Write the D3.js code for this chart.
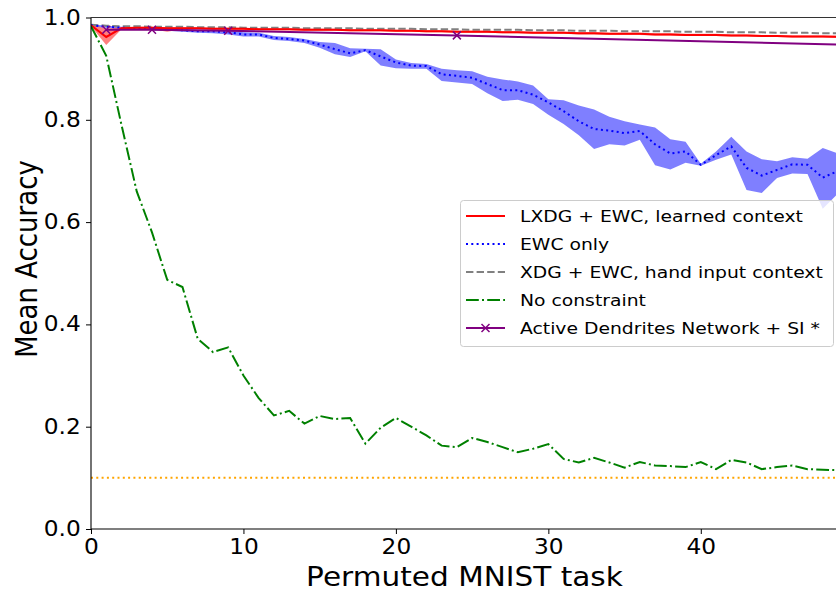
<!DOCTYPE html>
<html>
<head>
<meta charset="utf-8">
<script src="https://cdn.jsdelivr.net/npm/d3@7"></script>
<style>
  html, body { margin: 0; padding: 0; background: #fff; }
  svg { display: block; font-family: "DejaVu Sans", sans-serif; }
</style>
</head>
<body>
<svg id="chart" width="836" height="593"></svg>
<script>
// ---------------- data ----------------
const tasks = d3.range(50);
const yTicks = [0.0, 0.2, 0.4, 0.6, 0.8, 1.0];
const xTicks = [0, 10, 20, 30, 40];

const lxdgMean = [0.985, 0.962, 0.979, 0.980, 0.980, 0.979, 0.979, 0.979, 0.978, 0.978,
                  0.978, 0.977, 0.977, 0.977, 0.976, 0.976, 0.976, 0.975, 0.975, 0.975,
                  0.974, 0.974, 0.973, 0.973, 0.972, 0.972, 0.972, 0.971, 0.971, 0.970,
                  0.970, 0.970, 0.969, 0.969, 0.968, 0.968, 0.968, 0.967, 0.967, 0.966,
                  0.966, 0.966, 0.965, 0.965, 0.964, 0.964, 0.963, 0.963, 0.963, 0.962];
const lxdgUpper = [0.987, 0.978, 0.981, 0.982, 0.982, 0.981, 0.981, 0.981, 0.980, 0.980,
                   0.980, 0.979, 0.979, 0.979, 0.978, 0.978, 0.978, 0.977, 0.977, 0.977,
                   0.976, 0.976, 0.975, 0.975, 0.974, 0.974, 0.974, 0.973, 0.973, 0.972,
                   0.972, 0.972, 0.971, 0.971, 0.970, 0.970, 0.970, 0.969, 0.969, 0.968,
                   0.968, 0.968, 0.967, 0.967, 0.966, 0.966, 0.965, 0.965, 0.965, 0.964];
const lxdgLower = [0.983, 0.946, 0.977, 0.978, 0.977, 0.972, 0.977, 0.977, 0.976, 0.976,
                   0.976, 0.975, 0.975, 0.975, 0.974, 0.974, 0.974, 0.973, 0.973, 0.973,
                   0.972, 0.972, 0.971, 0.971, 0.970, 0.970, 0.970, 0.969, 0.969, 0.968,
                   0.968, 0.968, 0.967, 0.967, 0.966, 0.966, 0.966, 0.965, 0.965, 0.964,
                   0.964, 0.964, 0.963, 0.963, 0.962, 0.962, 0.961, 0.961, 0.961, 0.960];

const ewcMean = [0.985, 0.982, 0.980, 0.979, 0.977, 0.977, 0.975, 0.973, 0.973, 0.971,
                 0.967, 0.967, 0.960, 0.958, 0.955, 0.947, 0.938, 0.930, 0.936, 0.924,
                 0.912, 0.906, 0.905, 0.889, 0.886, 0.882, 0.870, 0.858, 0.858, 0.849,
                 0.834, 0.817, 0.797, 0.782, 0.779, 0.774, 0.778, 0.752, 0.734, 0.738,
                 0.712, 0.731, 0.748, 0.706, 0.691, 0.702, 0.713, 0.712, 0.687, 0.700];
const ewcUpper = [0.987, 0.984, 0.982, 0.981, 0.980, 0.979, 0.978, 0.976, 0.976, 0.975,
                  0.971, 0.970, 0.964, 0.962, 0.958, 0.952, 0.950, 0.940, 0.939, 0.938,
                  0.918, 0.911, 0.909, 0.900, 0.897, 0.895, 0.884, 0.879, 0.875, 0.867,
                  0.840, 0.838, 0.828, 0.820, 0.806, 0.797, 0.791, 0.785, 0.762, 0.757,
                  0.714, 0.738, 0.767, 0.738, 0.723, 0.719, 0.727, 0.724, 0.745, 0.734];
const ewcLower = [0.983, 0.980, 0.978, 0.977, 0.975, 0.974, 0.972, 0.970, 0.969, 0.967,
                  0.963, 0.963, 0.956, 0.954, 0.950, 0.941, 0.928, 0.923, 0.934, 0.906,
                  0.901, 0.900, 0.900, 0.876, 0.873, 0.870, 0.852, 0.837, 0.839, 0.831,
                  0.810, 0.792, 0.770, 0.743, 0.752, 0.750, 0.761, 0.711, 0.703, 0.716,
                  0.710, 0.722, 0.732, 0.663, 0.657, 0.686, 0.695, 0.694, 0.626, 0.656];

const xdgMean = [0.986, 0.984, 0.983, 0.983, 0.982, 0.982, 0.982, 0.981, 0.981, 0.981,
                 0.980, 0.980, 0.980, 0.980, 0.979, 0.979, 0.979, 0.979, 0.978, 0.978,
                 0.978, 0.978, 0.977, 0.977, 0.977, 0.976, 0.976, 0.976, 0.976, 0.975,
                 0.975, 0.975, 0.974, 0.974, 0.974, 0.973, 0.973, 0.973, 0.973, 0.972,
                 0.972, 0.972, 0.971, 0.971, 0.971, 0.970, 0.970, 0.970, 0.969, 0.969];

const noConstraint = [0.983, 0.925, 0.790, 0.660, 0.580, 0.487, 0.473, 0.372, 0.346, 0.355,
                      0.300, 0.256, 0.222, 0.231, 0.206, 0.221, 0.215, 0.217, 0.167, 0.198,
                      0.217, 0.200, 0.183, 0.163, 0.160, 0.178, 0.170, 0.160, 0.150, 0.157,
                      0.166, 0.137, 0.130, 0.139, 0.130, 0.120, 0.131, 0.124, 0.123, 0.121,
                      0.131, 0.117, 0.135, 0.130, 0.117, 0.121, 0.124, 0.117, 0.116, 0.115];

// Active Dendrites + SI: reported at 2, 5, 10, 25 and 100 tasks (last point lies beyond the visible range)
const adnTasks = [1, 4, 9, 24, 99];
const adnAcc = [0.976, 0.976, 0.974, 0.965, 0.911];

const chanceLevel = 0.1;

const legendLabels = ["LXDG + EWC, learned context", "EWC only",
                      "XDG + EWC, hand input context", "No constraint",
                      "Active Dendrites Network + SI *"];

// ---------------- layout ----------------
const svg = d3.select("#chart");
const pLeft = 91, pRight = 838, pTop = 17.5, pBottom = 529;
const SX = 1.137; // horizontal text stretch seen in the reference
const x = d3.scaleLinear().domain([0, 49]).range([pLeft, pRight]);
const y = d3.scaleLinear().domain([0, 1]).range([pBottom, pTop]);

const defs = svg.append("defs");
defs.append("clipPath").attr("id", "plotclip")
  .append("rect").attr("x", pLeft).attr("y", pTop).attr("width", pRight - pLeft).attr("height", pBottom - pTop);

const plot = svg.append("g").attr("clip-path", "url(#plotclip)");

const lineGen = (vals, xs) => d3.line().x((d, i) => x(xs ? xs[i] : i)).y(d => y(d))(vals);
const areaGen = (up, lo) => d3.area().x((d, i) => x(i)).y0((d, i) => y(lo[i])).y1((d, i) => y(up[i]))(up);

// bands
plot.append("path").attr("d", areaGen(ewcUpper, ewcLower)).attr("fill", "blue").attr("fill-opacity", 0.5);
plot.append("path").attr("d", areaGen(lxdgUpper, lxdgLower)).attr("fill", "red").attr("fill-opacity", 0.5);

// chance
plot.append("line").attr("x1", pLeft).attr("x2", pRight).attr("y1", y(chanceLevel)).attr("y2", y(chanceLevel))
  .attr("stroke", "orange").attr("stroke-width", 2).attr("stroke-dasharray", "2,3.3");

// lines
const lw = 2;
plot.append("path").attr("d", lineGen(xdgMean)).attr("fill", "none").attr("stroke", "gray")
  .attr("stroke-width", lw).attr("stroke-dasharray", "7.4,3.2");
plot.append("path").attr("d", lineGen(ewcMean)).attr("fill", "none").attr("stroke", "blue")
  .attr("stroke-width", lw).attr("stroke-dasharray", "2,3.3");
plot.append("path").attr("d", lineGen(lxdgMean)).attr("fill", "none").attr("stroke", "red")
  .attr("stroke-width", lw);
plot.append("path").attr("d", lineGen(noConstraint)).attr("fill", "none").attr("stroke", "green")
  .attr("stroke-width", lw).attr("stroke-dasharray", "12.8,3.2,2,3.2");
plot.append("path").attr("d", lineGen(adnAcc, adnTasks)).attr("fill", "none").attr("stroke", "purple")
  .attr("stroke-width", lw);

const xMarker = (g, cx, cy, s) => {
  g.append("path").attr("d", `M${cx - s},${cy - s}L${cx + s},${cy + s}M${cx - s},${cy + s}L${cx + s},${cy - s}`)
    .attr("stroke", "purple").attr("stroke-width", 1.5).attr("fill", "none");
};
adnTasks.forEach((t, i) => xMarker(plot, x(t), y(adnAcc[i]), 4));

// axes
const yAxis = svg.append("g").attr("transform", `translate(${pLeft},0)`)
  .call(d3.axisLeft(y).tickValues(yTicks).tickFormat(d3.format(".1f")).tickSize(5).tickPadding(4));
const xAxis = svg.append("g").attr("transform", `translate(0,${pBottom})`)
  .call(d3.axisBottom(x).tickValues(xTicks).tickFormat(d3.format("d")).tickSize(5).tickPadding(5));
[yAxis, xAxis].forEach(a => {
  a.select(".domain").remove();
  a.selectAll("text").attr("font-size", 20.5).attr("fill", "#000").attr("font-family", "DejaVu Sans")
    .attr("transform", `scale(${SX},1)`);
  a.selectAll("line").attr("stroke", "#000").attr("stroke-width", 1);
});

// spines
svg.append("line").attr("x1", pLeft).attr("x2", pLeft).attr("y1", pTop).attr("y2", pBottom + 0.5)
  .attr("stroke", "#000").attr("stroke-width", 1.1);
svg.append("line").attr("x1", pLeft).attr("x2", 836).attr("y1", pBottom).attr("y2", pBottom)
  .attr("stroke", "#000").attr("stroke-width", 1.1);
svg.append("line").attr("x1", pLeft).attr("x2", 836).attr("y1", pTop).attr("y2", pTop)
  .attr("stroke", "#333").attr("stroke-width", 1.1);

// axis labels
svg.append("text").attr("transform", `translate(${(pLeft + pRight) / 2},586) scale(${SX},1)`)
  .attr("text-anchor", "middle").attr("font-size", 26).attr("fill", "#000").text("Permuted MNIST task");
svg.append("text").attr("transform", `translate(37,259) scale(${SX},1) rotate(-90)`)
  .attr("text-anchor", "middle").attr("font-size", 26).attr("fill", "#000").text("Mean Accuracy");

// legend
const lg = svg.append("g");
lg.append("rect").attr("x", 460.5).attr("y", 200.5).attr("width", 373).attr("height", 146)
  .attr("rx", 3).attr("fill", "#fff").attr("fill-opacity", 0.8).attr("stroke", "#ccc").attr("stroke-width", 1);
const legendStyles = [
  { color: "red", dash: null },
  { color: "blue", dash: "2,3.3" },
  { color: "gray", dash: "7.4,3.2" },
  { color: "green", dash: "12.8,3.2,2,3.2" },
  { color: "purple", dash: null, marker: true }
];
legendLabels.forEach((lab, i) => {
  const cy = 216 + i * 28;
  const st = legendStyles[i];
  const ln = lg.append("line").attr("x1", 466).attr("x2", 505).attr("y1", cy).attr("y2", cy)
    .attr("stroke", st.color).attr("stroke-width", lw);
  if (st.dash) ln.attr("stroke-dasharray", st.dash);
  if (st.marker) xMarker(lg, 485.5, cy, 4);
  lg.append("text").attr("transform", `translate(520,${cy}) scale(${SX},1)`).attr("dy", "0.36em")
    .attr("font-size", 16.5).attr("fill", "#000").text(lab);
});
</script>
</body>
</html>
